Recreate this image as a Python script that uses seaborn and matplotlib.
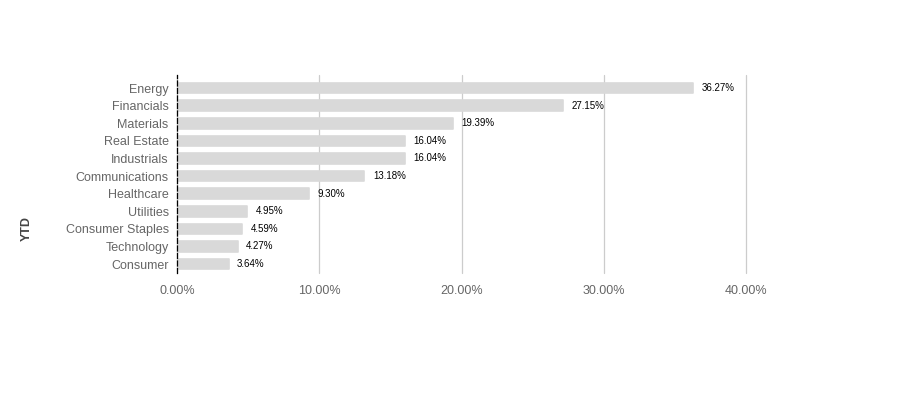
import pandas as pd
import matplotlib.pyplot as plt
import seaborn as sns
from matplotlib.ticker import FuncFormatter

# YTD return by sector
sectors = ['Energy', 'Financials', 'Materials', 'Real Estate', 'Industrials',
           'Communications', 'Healthcare', 'Utilities', 'Consumer Staples',
           'Technology', 'Consumer']
ytd = [36.27, 27.15, 19.39, 16.04, 16.04, 13.18, 9.30, 4.95, 4.59, 4.27, 3.64]
x_ticks = [0, 10, 20, 30, 40]

df = pd.DataFrame({'Sector': sectors, 'YTD': ytd})

sns.set_theme(style="white")
plt.rcParams['font.family'] = ['Liberation Sans', 'DejaVu Sans']

fig = plt.figure(figsize=(9.21, 3.96), dpi=100)
ax = fig.add_axes([0.1922, 0.311, 0.6178, 0.4996])

sns.barplot(data=df, x='YTD', y='Sector', ax=ax, color='#d9d9d9',
            saturation=1, width=0.6, edgecolor='#d9d9d9', linewidth=1.2)
for p in ax.patches:
    p.set_joinstyle('round')

ax.bar_label(ax.containers[0], labels=[f"{v:.2f}%" for v in ytd],
             padding=6, fontsize=7, color='black')

ax.set_xlim(0, 40)
ax.set_ylim(10.5, -0.74)
ax.set_xticks(x_ticks)
ax.xaxis.set_major_formatter(FuncFormatter(lambda v, _: f"{v:.2f}%"))
ax.tick_params(axis='x', length=0, pad=9, labelsize=9, labelcolor='#666666')
ax.tick_params(axis='y', length=0, pad=6, labelsize=9, labelcolor='#666666')

ax.grid(axis='x', color='#cccccc', linewidth=0.9)
for gl in ax.get_xgridlines():
    gl.set_clip_on(False)
ax.set_axisbelow(True)
for s in ['top', 'right', 'bottom']:
    ax.spines[s].set_visible(False)
ax.spines['left'].set_color('black')
ax.spines['left'].set_linestyle((0, (4, 2)))
ax.spines['left'].set_linewidth(0.9)

ax.set_xlabel('')
ax.set_ylabel('YTD', fontsize=9, fontweight='bold', color='#444444')
ax.yaxis.set_label_coords(-0.254, 0.226)

plt.savefig('out.png', dpi=100)
